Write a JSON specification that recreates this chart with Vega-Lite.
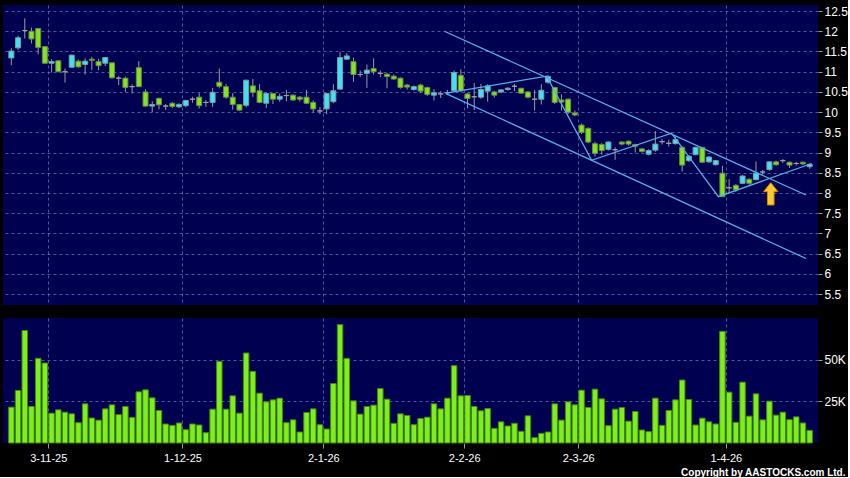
{
  "$schema": "https://vega.github.io/schema/vega-lite/v6.json",
  "background": "#000000",
  "padding": {"left": 3, "top": 5, "right": 0, "bottom": 0},
  "spacing": 13,
  "config": {
    "view": {"fill": "#000050", "stroke": null},
    "axis": {
      "domain": false,
      "labelColor": "#ffffff",
      "labelFont": "Liberation Sans",
      "labelFontSize": 12,
      "labelOverlap": false,
      "labelFlush": false,
      "labelBound": false,
      "tickColor": "#9a9a9a",
      "tickSize": 4,
      "labelPadding": 2,
      "gridColor": "#6a6aaa",
      "gridDash": [3, 3],
      "gridOpacity": 0.8,
      "gridWidth": 1
    }
  },
  "datasets": {
    "bars": [
      {"i":0,"o":11.34,"c":11.51,"h":11.58,"l":11.16,"v":21500},
      {"i":1,"o":11.59,"c":11.84,"h":11.89,"l":11.54,"v":31500},
      {"i":2,"o":12.02,"c":12.02,"h":12.32,"l":11.82,"v":67500},
      {"i":3,"o":12.0,"c":11.81,"h":12.09,"l":11.7,"v":21900},
      {"i":4,"o":12.07,"c":11.6,"h":12.08,"l":11.43,"v":50800},
      {"i":5,"o":11.62,"c":11.21,"h":11.63,"l":11.19,"v":48000},
      {"i":6,"o":11.21,"c":11.25,"h":11.31,"l":10.98,"v":17900},
      {"i":7,"o":11.27,"c":11.0,"h":11.29,"l":10.99,"v":19900},
      {"i":8,"o":11.0,"c":11.0,"h":11.08,"l":10.73,"v":18500},
      {"i":9,"o":11.11,"c":11.41,"h":11.42,"l":11.1,"v":17500},
      {"i":10,"o":11.26,"c":11.12,"h":11.3,"l":11.1,"v":12200},
      {"i":11,"o":11.18,"c":11.26,"h":11.33,"l":10.93,"v":23500},
      {"i":12,"o":11.31,"c":11.28,"h":11.37,"l":11.04,"v":15000},
      {"i":13,"o":11.25,"c":11.15,"h":11.32,"l":11.04,"v":13700},
      {"i":14,"o":11.21,"c":11.35,"h":11.37,"l":11.14,"v":20500},
      {"i":15,"o":11.22,"c":10.85,"h":11.23,"l":10.83,"v":22900},
      {"i":16,"o":10.84,"c":10.84,"h":10.89,"l":10.67,"v":17000},
      {"i":17,"o":10.84,"c":10.61,"h":10.88,"l":10.5,"v":21900},
      {"i":18,"o":10.63,"c":10.63,"h":10.69,"l":10.46,"v":15300},
      {"i":19,"o":11.1,"c":10.63,"h":11.26,"l":10.62,"v":30700},
      {"i":20,"o":10.5,"c":10.15,"h":10.57,"l":10.13,"v":31900},
      {"i":21,"o":10.15,"c":10.19,"h":10.27,"l":10.0,"v":27100},
      {"i":22,"o":10.34,"c":10.18,"h":10.36,"l":10.07,"v":19500},
      {"i":23,"o":10.15,"c":10.15,"h":10.2,"l":10.05,"v":11400},
      {"i":24,"o":10.22,"c":10.14,"h":10.25,"l":10.1,"v":10600},
      {"i":25,"o":10.13,"c":10.19,"h":10.22,"l":10.1,"v":12000},
      {"i":26,"o":10.16,"c":10.29,"h":10.3,"l":10.12,"v":8000},
      {"i":27,"o":10.32,"c":10.32,"h":10.38,"l":10.23,"v":11400},
      {"i":28,"o":10.37,"c":10.16,"h":10.47,"l":10.09,"v":10800},
      {"i":29,"o":10.24,"c":10.24,"h":10.3,"l":10.13,"v":6200},
      {"i":30,"o":10.24,"c":10.49,"h":10.6,"l":10.13,"v":20300},
      {"i":31,"o":10.74,"c":10.64,"h":11.08,"l":10.59,"v":49000},
      {"i":32,"o":10.63,"c":10.37,"h":10.7,"l":10.33,"v":20300},
      {"i":33,"o":10.37,"c":10.19,"h":10.47,"l":10.06,"v":28300},
      {"i":34,"o":10.19,"c":10.05,"h":10.2,"l":10.03,"v":17900},
      {"i":35,"o":10.17,"c":10.79,"h":10.8,"l":10.12,"v":54000},
      {"i":36,"o":10.65,"c":10.49,"h":10.82,"l":10.38,"v":43000},
      {"i":37,"o":10.53,"c":10.24,"h":10.69,"l":10.22,"v":29900},
      {"i":38,"o":10.22,"c":10.46,"h":10.49,"l":10.1,"v":24700},
      {"i":39,"o":10.46,"c":10.32,"h":10.46,"l":10.2,"v":25900},
      {"i":40,"o":10.32,"c":10.39,"h":10.46,"l":10.26,"v":26900},
      {"i":41,"o":10.41,"c":10.41,"h":10.55,"l":10.27,"v":12200},
      {"i":42,"o":10.42,"c":10.3,"h":10.44,"l":10.28,"v":13900},
      {"i":43,"o":10.37,"c":10.32,"h":10.4,"l":10.26,"v":6600},
      {"i":44,"o":10.37,"c":10.22,"h":10.55,"l":10.2,"v":18300},
      {"i":45,"o":10.24,"c":10.08,"h":10.29,"l":9.99,"v":20500},
      {"i":46,"o":10.03,"c":10.03,"h":10.12,"l":9.95,"v":11000},
      {"i":47,"o":10.08,"c":10.46,"h":10.46,"l":9.95,"v":8400},
      {"i":48,"o":10.26,"c":10.53,"h":10.69,"l":10.22,"v":35700},
      {"i":49,"o":10.57,"c":11.35,"h":11.49,"l":10.55,"v":71000},
      {"i":50,"o":11.31,"c":11.39,"h":11.46,"l":11.29,"v":50800},
      {"i":51,"o":11.25,"c":10.93,"h":11.35,"l":10.75,"v":25300},
      {"i":52,"o":10.93,"c":10.93,"h":11.03,"l":10.87,"v":17300},
      {"i":53,"o":10.96,"c":11.04,"h":11.18,"l":10.6,"v":21900},
      {"i":54,"o":11.08,"c":11.0,"h":11.33,"l":10.93,"v":22700},
      {"i":55,"o":10.96,"c":10.96,"h":11.03,"l":10.87,"v":32700},
      {"i":56,"o":10.94,"c":10.88,"h":10.97,"l":10.59,"v":26300},
      {"i":57,"o":10.89,"c":10.82,"h":10.93,"l":10.8,"v":11800},
      {"i":58,"o":10.84,"c":10.61,"h":10.86,"l":10.58,"v":17500},
      {"i":59,"o":10.67,"c":10.62,"h":10.7,"l":10.56,"v":16500},
      {"i":60,"o":10.56,"c":10.63,"h":10.66,"l":10.53,"v":11000},
      {"i":61,"o":10.67,"c":10.52,"h":10.7,"l":10.47,"v":14700},
      {"i":62,"o":10.61,"c":10.44,"h":10.63,"l":10.4,"v":15500},
      {"i":63,"o":10.42,"c":10.48,"h":10.57,"l":10.29,"v":23500},
      {"i":64,"o":10.45,"c":10.45,"h":10.52,"l":10.35,"v":20500},
      {"i":65,"o":10.48,"c":10.48,"h":10.55,"l":10.42,"v":26900},
      {"i":66,"o":10.53,"c":10.98,"h":11.03,"l":10.5,"v":46400},
      {"i":67,"o":10.91,"c":10.53,"h":11.06,"l":10.5,"v":28300},
      {"i":68,"o":10.45,"c":10.34,"h":10.47,"l":10.1,"v":28500},
      {"i":69,"o":10.38,"c":10.38,"h":10.72,"l":10.05,"v":21900},
      {"i":70,"o":10.37,"c":10.56,"h":10.7,"l":10.33,"v":19300},
      {"i":71,"o":10.52,"c":10.65,"h":10.69,"l":10.26,"v":20700},
      {"i":72,"o":10.5,"c":10.42,"h":10.53,"l":10.36,"v":8800},
      {"i":73,"o":10.5,"c":10.55,"h":10.57,"l":10.47,"v":12700},
      {"i":74,"o":10.56,"c":10.59,"h":10.62,"l":10.53,"v":10200},
      {"i":75,"o":10.64,"c":10.64,"h":10.7,"l":10.52,"v":11800},
      {"i":76,"o":10.59,"c":10.47,"h":10.6,"l":10.45,"v":7000},
      {"i":77,"o":10.5,"c":10.37,"h":10.52,"l":10.34,"v":16300},
      {"i":78,"o":10.32,"c":10.32,"h":10.55,"l":10.04,"v":3200},
      {"i":79,"o":10.32,"c":10.54,"h":10.69,"l":10.19,"v":5800},
      {"i":80,"o":10.74,"c":10.88,"h":10.92,"l":10.7,"v":6600},
      {"i":81,"o":10.61,"c":10.24,"h":10.63,"l":10.2,"v":23500},
      {"i":82,"o":10.3,"c":10.25,"h":10.44,"l":10.04,"v":13700},
      {"i":83,"o":10.32,"c":10.0,"h":10.34,"l":9.95,"v":24700},
      {"i":84,"o":9.98,"c":9.93,"h":10.04,"l":9.9,"v":22900},
      {"i":85,"o":9.68,"c":9.5,"h":9.72,"l":9.46,"v":31700},
      {"i":86,"o":9.6,"c":9.26,"h":9.62,"l":9.23,"v":21300},
      {"i":87,"o":9.22,"c":8.98,"h":9.27,"l":8.9,"v":32300},
      {"i":88,"o":9.2,"c":9.05,"h":9.23,"l":8.95,"v":26500},
      {"i":89,"o":9.08,"c":9.26,"h":9.28,"l":9.05,"v":10400},
      {"i":90,"o":9.07,"c":9.07,"h":9.13,"l":8.82,"v":20300},
      {"i":91,"o":9.26,"c":9.21,"h":9.28,"l":9.18,"v":21300},
      {"i":92,"o":9.28,"c":9.21,"h":9.3,"l":9.17,"v":13100},
      {"i":93,"o":9.2,"c":9.16,"h":9.22,"l":9.0,"v":18900},
      {"i":94,"o":9.09,"c":9.03,"h":9.11,"l":9.0,"v":7800},
      {"i":95,"o":8.96,"c":9.05,"h":9.08,"l":8.93,"v":6800},
      {"i":96,"o":9.06,"c":9.21,"h":9.53,"l":9.02,"v":26900},
      {"i":97,"o":9.27,"c":9.27,"h":9.34,"l":9.2,"v":10600},
      {"i":98,"o":9.23,"c":9.23,"h":9.32,"l":9.15,"v":19500},
      {"i":99,"o":9.22,"c":9.32,"h":9.4,"l":9.2,"v":25900},
      {"i":100,"o":9.13,"c":8.69,"h":9.15,"l":8.53,"v":37800},
      {"i":101,"o":8.8,"c":8.91,"h":8.94,"l":8.77,"v":26100},
      {"i":102,"o":8.95,"c":9.13,"h":9.14,"l":8.93,"v":10800},
      {"i":103,"o":9.13,"c":8.76,"h":9.14,"l":8.74,"v":14900},
      {"i":104,"o":8.77,"c":8.89,"h":8.91,"l":8.75,"v":12700},
      {"i":105,"o":8.7,"c":8.8,"h":8.82,"l":8.68,"v":11400},
      {"i":106,"o":8.49,"c":7.91,"h":8.67,"l":7.9,"v":67000},
      {"i":107,"o":8.13,"c":8.13,"h":8.34,"l":7.98,"v":30500},
      {"i":108,"o":8.19,"c":8.08,"h":8.22,"l":8.03,"v":12400},
      {"i":109,"o":8.24,"c":8.42,"h":8.45,"l":8.22,"v":36500},
      {"i":110,"o":8.34,"c":8.24,"h":8.36,"l":8.2,"v":16100},
      {"i":111,"o":8.33,"c":8.49,"h":8.78,"l":8.31,"v":29500},
      {"i":112,"o":8.52,"c":8.52,"h":8.57,"l":8.46,"v":13900},
      {"i":113,"o":8.58,"c":8.77,"h":8.79,"l":8.55,"v":25100},
      {"i":114,"o":8.77,"c":8.7,"h":8.8,"l":8.67,"v":16700},
      {"i":115,"o":8.8,"c":8.8,"h":8.84,"l":8.74,"v":18500},
      {"i":116,"o":8.76,"c":8.69,"h":8.78,"l":8.62,"v":14000},
      {"i":117,"o":8.73,"c":8.73,"h":8.77,"l":8.68,"v":15700},
      {"i":118,"o":8.76,"c":8.72,"h":8.78,"l":8.69,"v":12000},
      {"i":119,"o":8.65,"c":8.71,"h":8.73,"l":8.6,"v":7600}
    ],
    "trend": [
      {"seg":"upper","i":64.55,"p":12.0},
      {"seg":"upper","i":118.45,"p":7.95},
      {"seg":"lower","i":64.8,"p":10.46},
      {"seg":"lower","i":118.45,"p":6.38},
      {"seg":"zig","i":64.8,"p":10.47},
      {"seg":"zig","i":79.8,"p":10.89},
      {"seg":"zig","i":86.5,"p":8.81},
      {"seg":"zig","i":98.4,"p":9.48},
      {"seg":"zig","i":105.4,"p":7.91},
      {"seg":"zig","i":119.3,"p":8.73}
    ],
    "arrow": [
      {"i":113.2,"p":7.98}
    ]
  },
  "vconcat": [
    {
      "width": 815,
      "height": 300,
      "layer": [
        {
          "data": {"name": "bars"},
          "mark": {"type": "rule", "color": "#9a9a9a", "strokeWidth": 1},
          "encoding": {
            "x": {"field": "i", "type": "quantitative",
              "scale": {"domain": [-0.5, 119.5], "nice": false, "zero": false},
              "axis": {"values": [5.5, 25.5, 46.5, 67.5, 84.5, 106.5], "tickCount": 20, "labels": false, "ticks": false, "grid": true, "title": null}},
            "y": {"field": "l", "type": "quantitative",
              "scale": {"domain": [5.23, 12.65], "nice": false, "zero": false},
              "axis": {"orient": "right", "values": [5.5, 6, 6.5, 7, 7.5, 8, 8.5, 9, 9.5, 10, 10.5, 11, 11.5, 12, 12.5], "tickCount": 30, "format": ".3~g", "labelOverlap": false, "grid": true, "title": null}},
            "y2": {"field": "h"}
          }
        },
        {
          "data": {"name": "bars"},
          "mark": {"type": "bar", "width": 5, "strokeWidth": 1},
          "encoding": {
            "x": {"field": "i", "type": "quantitative"},
            "y": {"field": "o", "type": "quantitative"},
            "y2": {"field": "c"},
            "fill": {"condition": [
              {"test": "datum.c > datum.o", "value": "#3fe3f0"},
              {"test": "datum.c < datum.o", "value": "#84e41e"}
            ], "value": "#9a9a9a"},
            "stroke": {"condition": [
              {"test": "datum.c > datum.o", "value": "#7f9aa6"},
              {"test": "datum.c < datum.o", "value": "#6a8a4a"}
            ], "value": "#a0a0a0"}
          }
        },
        {
          "data": {"name": "trend"},
          "mark": {"type": "line", "color": "#5aaeea", "strokeWidth": 1.3},
          "encoding": {
            "x": {"field": "i", "type": "quantitative"},
            "y": {"field": "p", "type": "quantitative"},
            "detail": {"field": "seg"},
            "order": {"field": "i"}
          }
        },
        {
          "data": {"name": "arrow"},
          "mark": {"type": "point", "filled": true, "fill": "#ffc933", "stroke": "#d08a00", "strokeWidth": 1, "opacity": 1,
            "shape": "M0,-1.55L1,-0.3L0.46,-0.3L0.46,1.55L-0.46,1.55L-0.46,-0.3L-1,-0.3Z", "size": 207},
          "encoding": {
            "x": {"field": "i", "type": "quantitative"},
            "y": {"field": "p", "type": "quantitative"}
          }
        }
      ]
    },
    {
      "width": 815,
      "height": 125,
      "data": {"name": "bars"},
      "mark": {"type": "bar", "width": 5.5, "fill": "#80ee1c", "stroke": "#3f8a0c", "strokeWidth": 1},
      "encoding": {
        "x": {"field": "i", "type": "quantitative",
          "scale": {"domain": [-0.5, 119.5], "nice": false, "zero": false},
          "axis": {"values": [5.5, 25.5, 46.5, 67.5, 84.5, 106.5], "tickCount": 20, "grid": true, "labelOverlap": false,
            "labelExpr": "datum.value == 5.5 ? '3-11-25' : datum.value == 25.5 ? '1-12-25' : datum.value == 46.5 ? '2-1-26' : datum.value == 67.5 ? '2-2-26' : datum.value == 84.5 ? '2-3-26' : '1-4-26'",
            "labelFontSize": 11, "tickSize": 5, "labelPadding": 4,
            "title": "Copyright by AASTOCKS.com Ltd.", "titleColor": "#ffffff", "titleFont": "Liberation Sans", "titleFontSize": 10,
            "titleFontWeight": "bold", "titleAlign": "right", "titleBaseline": "middle", "titleX": 842, "titleY": 29}},
        "y": {"field": "v", "type": "quantitative",
          "scale": {"domain": [0, 75000], "nice": false},
          "axis": {"orient": "right", "values": [25000, 50000], "tickCount": 10, "labelOverlap": false, "labelExpr": "(datum.value / 1000) + 'K'", "grid": true, "title": null}}
      }
    }
  ]
}
